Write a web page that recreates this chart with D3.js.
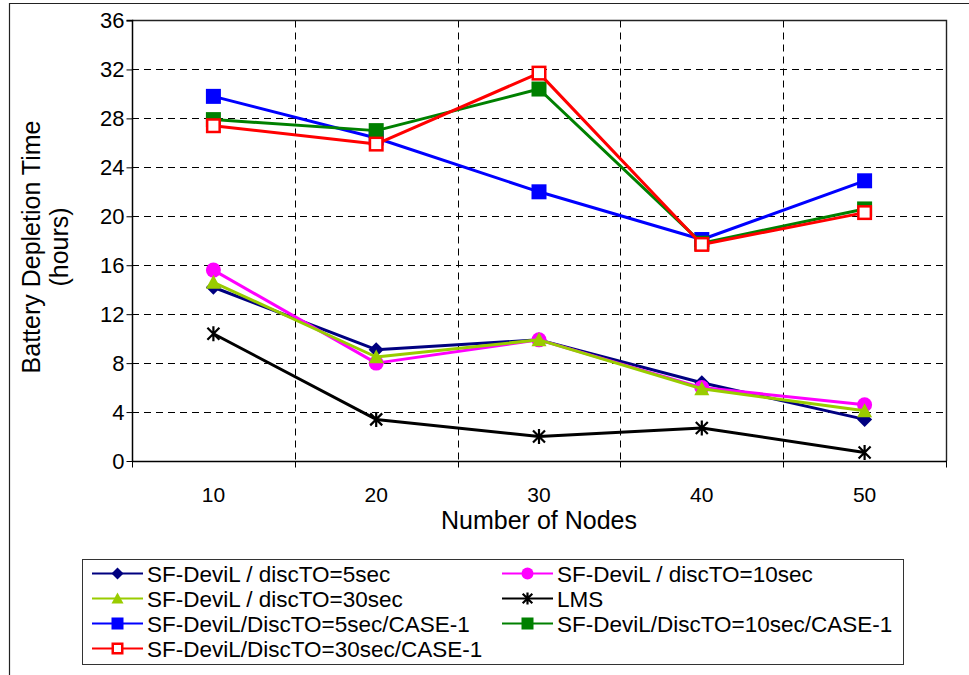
<!DOCTYPE html>
<html>
<head>
<meta charset="utf-8">
<script src="https://cdn.jsdelivr.net/npm/d3@7"></script>
<style>
  html, body { margin: 0; padding: 0; background: #fff; }
  svg { display: block; font-family: "Liberation Sans", Arial, sans-serif; }
</style>
</head>
<body>
<svg id="chart" width="969" height="675"></svg>
<script>
// Node counts on the x axis
const categories = ["10", "20", "30", "40", "50"];
// Y axis ticks (hours)
const yTicks = [0, 4, 8, 12, 16, 20, 24, 28, 32, 36];

// Battery depletion time (hours) for each protocol variant
const devil5 = [14.2, 9.1, 9.9, 6.4, 3.4];
const devil10 = [15.6, 8.0, 9.9, 6.0, 4.6];
const devil30 = [14.6, 8.5, 9.9, 5.9, 4.1];
const lms = [10.4, 3.4, 2.0, 2.7, 0.7];
const devil5Case1 = [29.8, 26.4, 22.0, 18.1, 22.9];
const devil10Case1 = [27.9, 27.0, 30.4, 17.8, 20.6];
const devil30Case1 = [27.4, 25.9, 31.7, 17.7, 20.3];

const seriesNames = [
  "SF-DeviL / discTO=5sec",
  "SF-DeviL / discTO=10sec",
  "SF-DeviL / discTO=30sec",
  "LMS",
  "SF-DeviL/DiscTO=5sec/CASE-1",
  "SF-DeviL/DiscTO=10sec/CASE-1",
  "SF-DeviL/DiscTO=30sec/CASE-1"
];
const seriesValues = [devil5, devil10, devil30, lms, devil5Case1, devil10Case1, devil30Case1];
const seriesColors = ["#000080", "#FF00FF", "#99CC00", "#000000", "#0000FF", "#008000", "#FF0000"];
const seriesMarkers = ["diamond", "circle", "triangle", "star", "square", "square", "hollowSquare"];

const svg = d3.select("#chart");

// Outer chart frame
svg.append("path")
  .attr("d", "M9.5,675 V3.5 H969")
  .attr("fill", "none").attr("stroke", "#222").attr("stroke-width", 1.2);

const plot = { left: 132, right: 946, top: 20.5, bottom: 461 };

const x = d3.scaleBand().domain(categories).range([plot.left, plot.right]);
const y = d3.scaleLinear().domain([0, 36]).range([plot.bottom, plot.top]);

const g = svg.append("g");

// Horizontal gridlines
g.selectAll("line.hgrid")
  .data(yTicks.filter(t => t > 0 && t < 36))
  .join("line")
  .attr("x1", plot.left).attr("x2", plot.right)
  .attr("y1", d => Math.round(y(d)) + 0.5).attr("y2", d => Math.round(y(d)) + 0.5)
  .attr("stroke", "#000").attr("stroke-width", 1)
  .attr("stroke-dasharray", "7,5");

// Vertical gridlines at category boundaries
const boundaries = categories.slice(1).map(c => x(c));
g.selectAll("line.vgrid")
  .data(boundaries)
  .join("line")
  .attr("x1", d => Math.round(d) + 0.5).attr("x2", d => Math.round(d) + 0.5)
  .attr("y1", plot.top).attr("y2", plot.bottom)
  .attr("stroke", "#000").attr("stroke-width", 1)
  .attr("stroke-dasharray", "7,5");

// Plot area top and right edges
g.append("path")
  .attr("d", `M${plot.left},${plot.top} H${plot.right + 0.5} V${plot.bottom}`)
  .attr("fill", "none").attr("stroke", "#222").attr("stroke-width", 1.4);

// Y axis
const yAxis = d3.axisLeft(y).tickValues(yTicks).tickSize(6).tickPadding(2).tickFormat(d3.format("d"));
const yg = svg.append("g").attr("transform", `translate(${plot.left + 0.5},0)`).call(yAxis);
yg.select(".domain").attr("stroke", "#000").attr("stroke-width", 1.5).attr("d", `M-6,${plot.top}H0V${plot.bottom}`);
yg.selectAll(".tick line").attr("stroke", "#000");
yg.selectAll(".tick text").attr("font-size", 22).attr("fill", "#000")
  .attr("font-family", "'Liberation Sans', Arial, sans-serif");

// X axis: labels at category centres, ticks at boundaries
const xg = svg.append("g").attr("transform", `translate(0,${plot.bottom + 0.5})`);
xg.append("line").attr("x1", plot.left).attr("x2", plot.right + 1)
  .attr("stroke", "#000").attr("stroke-width", 1.5);
xg.selectAll("line.xtick")
  .data([plot.left, ...boundaries, plot.right])
  .join("line")
  .attr("x1", d => Math.round(d) + 0.5).attr("x2", d => Math.round(d) + 0.5)
  .attr("y1", 0).attr("y2", 6).attr("stroke", "#000");
xg.selectAll("text")
  .data(categories)
  .join("text")
  .attr("x", d => x(d) + x.bandwidth() / 2)
  .attr("y", 40)
  .attr("text-anchor", "middle")
  .attr("font-size", 21)
  .text(d => d);

// Axis titles
svg.append("text")
  .attr("x", (plot.left + plot.right) / 2).attr("y", 529)
  .attr("text-anchor", "middle").attr("font-size", 25)
  .text("Number of Nodes");
const yTitle = svg.append("text")
  .attr("transform", "translate(0,247) rotate(-90)")
  .attr("text-anchor", "middle").attr("font-size", 25);
yTitle.append("tspan").attr("x", 0).attr("y", 40).text("Battery Depletion Time");
yTitle.append("tspan").attr("x", 0).attr("y", 68).text("(hours)");

// Marker drawing helper
function drawMarker(sel, type, color, size) {
  const h = size / 2;
  if (type === "diamond") {
    sel.append("path").attr("d", `M0,${-h}L${h},0L0,${h}L${-h},0Z`).attr("fill", color);
  } else if (type === "circle") {
    sel.append("circle").attr("r", h).attr("fill", color);
  } else if (type === "triangle") {
    sel.append("path").attr("d", `M0,${-h}L${h},${h * 0.85}L${-h},${h * 0.85}Z`).attr("fill", color);
  } else if (type === "square") {
    sel.append("rect").attr("x", -h).attr("y", -h).attr("width", size).attr("height", size).attr("fill", color);
  } else if (type === "hollowSquare") {
    sel.append("rect").attr("x", -h + 1.25).attr("y", -h + 1.25)
      .attr("width", size - 2.5).attr("height", size - 2.5)
      .attr("fill", "#fff").attr("stroke", color).attr("stroke-width", 2.5);
  } else if (type === "star") {
    const a = h * 0.8;
    sel.append("path")
      .attr("d", `M0,${-h}V${h}M${-a},${-a}L${a},${a}M${-a},${a}L${a},${-a}`)
      .attr("stroke", color).attr("stroke-width", 2.2).attr("fill", "none");
  }
}

const markerSizes = { diamond: 15, circle: 15, triangle: 15, star: 15, square: 15, hollowSquare: 15 };

// Series lines and markers, drawn in series order
const line = d3.line()
  .x((d, i) => x(categories[i]) + x.bandwidth() / 2)
  .y(d => y(d));

seriesValues.forEach((vals, si) => {
  const sg = svg.append("g");
  sg.append("path")
    .datum(vals)
    .attr("d", line)
    .attr("fill", "none")
    .attr("stroke", seriesColors[si])
    .attr("stroke-width", 3)
    .attr("stroke-linejoin", "round");
  sg.selectAll("g.pt")
    .data(vals)
    .join("g")
    .attr("transform", (d, i) => `translate(${x(categories[i]) + x.bandwidth() / 2},${y(d)})`)
    .each(function () {
      drawMarker(d3.select(this), seriesMarkers[si], seriesColors[si], markerSizes[seriesMarkers[si]]);
    });
});

// Legend
const legend = svg.append("g");
legend.append("rect")
  .attr("x", 82.5).attr("y", 559.5).attr("width", 821).attr("height", 105)
  .attr("fill", "#fff").attr("stroke", "#333").attr("stroke-width", 1);

const colX = [92, 502];
seriesNames.forEach((name, i) => {
  const col = i % 2;
  const row = Math.floor(i / 2);
  const ly = 573.5 + row * 25;
  const lx = colX[col];
  const item = legend.append("g");
  item.append("line")
    .attr("x1", lx).attr("x2", lx + 51).attr("y1", ly).attr("y2", ly)
    .attr("stroke", seriesColors[i]).attr("stroke-width", 2);
  const m = item.append("g").attr("transform", `translate(${lx + 25.5},${ly})`);
  drawMarker(m, seriesMarkers[i], seriesColors[i], 12);
  item.append("text")
    .attr("x", lx + 55).attr("y", ly + 8)
    .attr("font-size", 22.5)
    .text(name);
});
</script>
</body>
</html>
